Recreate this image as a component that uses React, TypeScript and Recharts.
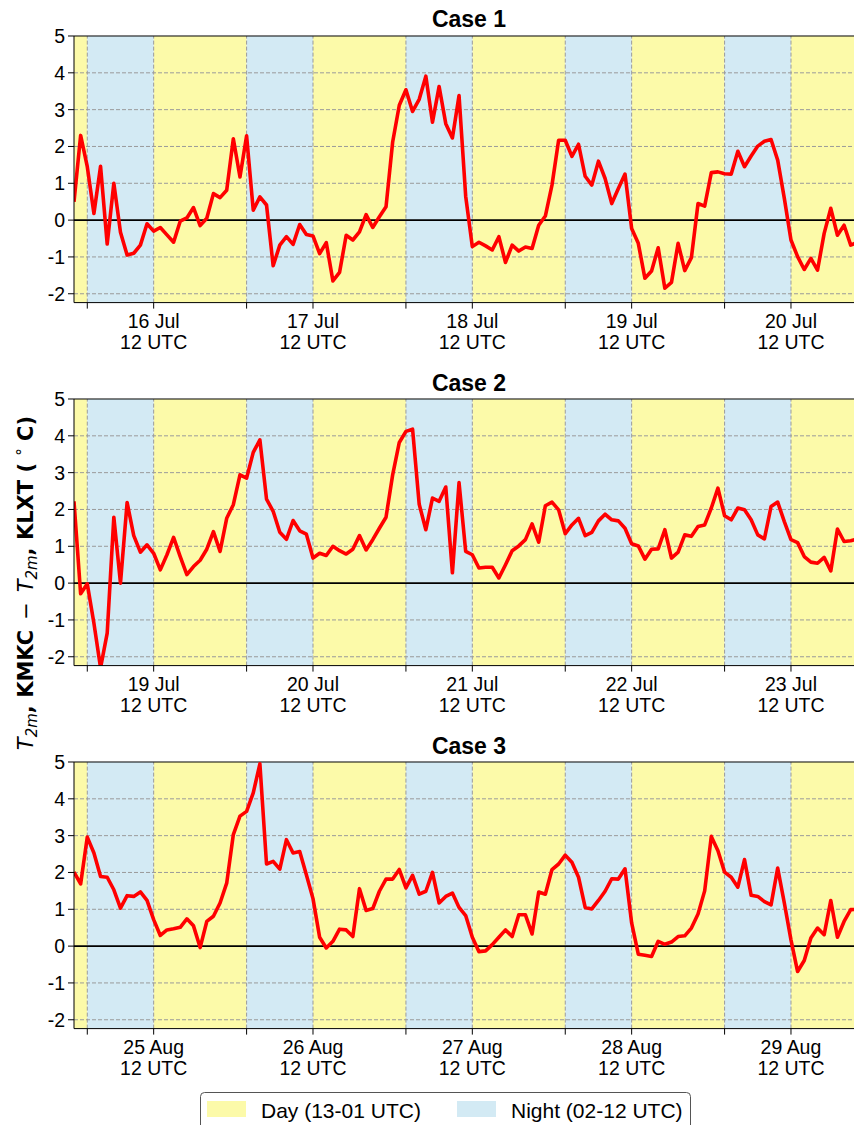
import React from 'react';
import { LineChart, Line, XAxis, YAxis, ReferenceArea, ReferenceLine } from 'recharts';

// ---- data (hourly, 00 UTC of first day = hour 0) ----
const CASE1_VALUES = [
  0.5, 2.3, 1.45, 0.18, 1.46, -0.65, 1.0, -0.33, -0.95, -0.9,
  -0.68, -0.1, -0.3, -0.2, -0.4, -0.6, -0.03, 0.06, 0.34, -0.15,
  0.05, 0.72, 0.61, 0.81, 2.21, 1.17, 2.29, 0.27, 0.63, 0.41,
  -1.24, -0.68, -0.45, -0.66, -0.12, -0.39, -0.43, -0.91, -0.61, -1.65,
  -1.42, -0.41, -0.54, -0.32, 0.15, -0.2, 0.09, 0.36, 2.12, 3.12,
  3.54, 2.95, 3.28, 3.91, 2.66, 3.63, 2.62, 2.23, 3.38, 0.65,
  -0.72, -0.6, -0.7, -0.81, -0.45, -1.15, -0.68, -0.84, -0.73, -0.77,
  -0.14, 0.11, 0.95, 2.17, 2.17, 1.73, 2.06, 1.19, 0.95, 1.6,
  1.13, 0.45, 0.86, 1.25, -0.23, -0.63, -1.58, -1.38, -0.75, -1.85,
  -1.69, -0.63, -1.37, -1.02, 0.45, 0.38, 1.29, 1.31, 1.26, 1.25,
  1.87, 1.45, 1.74, 2.01, 2.14, 2.19, 1.63, 0.59, -0.54, -0.99,
  -1.34, -1.04, -1.36, -0.36, 0.32, -0.41, -0.14, -0.68, -0.6, -0.5,
];

const CASE2_VALUES = [
  2.22, -0.29, -0.02, -1.09, -2.3, -1.36, 1.79, 0.0, 2.19, 1.29,
  0.84, 1.04, 0.81, 0.36, 0.77, 1.24, 0.72, 0.23, 0.45, 0.62,
  0.92, 1.4, 0.86, 1.76, 2.13, 2.94, 2.85, 3.55, 3.89, 2.28,
  1.95, 1.38, 1.19, 1.7, 1.42, 1.33, 0.68, 0.81, 0.75, 1.0,
  0.88, 0.79, 0.92, 1.29, 0.9, 1.18, 1.49, 1.79, 2.94, 3.82,
  4.12, 4.18, 2.14, 1.45, 2.31, 2.22, 2.61, 0.28, 2.73, 0.86,
  0.77, 0.41, 0.43, 0.43, 0.14, 0.5, 0.88, 1.01, 1.18, 1.61,
  1.11, 2.1, 2.2, 1.99, 1.34, 1.58, 1.76, 1.29, 1.38, 1.69,
  1.87, 1.72, 1.69, 1.49, 1.07, 1.01, 0.65, 0.92, 0.93, 1.45,
  0.68, 0.84, 1.31, 1.27, 1.54, 1.58, 2.04, 2.58, 1.83, 1.72,
  2.04, 1.99, 1.72, 1.31, 1.2, 2.08, 2.2, 1.67, 1.18, 1.1,
  0.72, 0.57, 0.54, 0.7, 0.33, 1.47, 1.13, 1.15, 1.2, 1.25,
];

const CASE3_VALUES = [
  2.01, 1.69, 2.96, 2.53, 1.89, 1.87, 1.53, 1.03, 1.37, 1.35,
  1.47, 1.24, 0.72, 0.29, 0.44, 0.47, 0.51, 0.74, 0.55, -0.04,
  0.67, 0.81, 1.17, 1.71, 3.03, 3.53, 3.66, 4.16, 4.95, 2.23,
  2.3, 2.09, 2.89, 2.53, 2.57, 1.94, 1.29, 0.24, -0.05, 0.13,
  0.46, 0.44, 0.26, 1.56, 0.97, 1.02, 1.49, 1.82, 1.82, 2.08,
  1.58, 1.92, 1.41, 1.49, 2.0, 1.17, 1.35, 1.44, 1.05, 0.83,
  0.24, -0.15, -0.13, 0.04, 0.24, 0.44, 0.26, 0.85, 0.85, 0.33,
  1.47, 1.41, 2.08, 2.23, 2.47, 2.28, 1.87, 1.05, 1.01, 1.24,
  1.49, 1.83, 1.82, 2.1, 0.63, -0.22, -0.25, -0.28, 0.13, 0.05,
  0.11, 0.26, 0.28, 0.49, 0.87, 1.5, 2.98, 2.59, 2.01, 1.87,
  1.6, 2.35, 1.38, 1.35, 1.21, 1.12, 2.12, 1.17, 0.17, -0.69,
  -0.39, 0.22, 0.49, 0.31, 1.24, 0.24, 0.67, 0.99, 1.0, 0.95,
];

const CASE_TITLES = ['Case 1', 'Case 2', 'Case 3'];
const CASE1_DAYS = ['16 Jul', '17 Jul', '18 Jul', '19 Jul', '20 Jul'];
const CASE2_DAYS = ['19 Jul', '20 Jul', '21 Jul', '22 Jul', '23 Jul'];
const CASE3_DAYS = ['25 Aug', '26 Aug', '27 Aug', '28 Aug', '29 Aug'];
const LABEL_HOURS = [12, 36, 60, 84, 108];
const TICK_HOURS = [2, 12, 26, 36, 50, 60, 74, 84, 98, 108];
const DAY_BANDS = [[0, 2], [12, 26], [36, 50], [60, 74], [84, 98], [108, 119]];
const NIGHT_BANDS = [[2, 12], [26, 36], [50, 60], [74, 84], [98, 108]];
const Y_TICKS = [-2, -1, 0, 1, 2, 3, 4, 5];
const Y_GRID = [-2, -1, 1, 2, 3, 4];
const X_DOMAIN = [0, 119];
const Y_DOMAIN = [-2.24, 5];

const DAY_COLOR = '#fcfaa9';
const NIGHT_COLOR = '#d3eaf4';
const GRID_COLOR = '#9a9a9a';
const FONT = '"Liberation Sans", Arial, Helvetica, sans-serif';
const LABEL_FONT = '"DejaVu Sans", sans-serif';

const PANEL_TOPS = [-0.3, 363.3, 726.3];
const CHART_W = 900;
const CHART_H = 363.6;

function makeTick(days: string[]) {
  return (props: any) => {
    const { x, y, payload } = props;
    const idx = LABEL_HOURS.indexOf(payload.value);
    if (idx < 0) return <g />;
    return (
      <text x={x} y={y} textAnchor="middle" fontSize={19.5} fill="#000" fontFamily={FONT}>
        <tspan x={x} dy={17}>{days[idx]}</tspan>
        <tspan x={x} dy={21}>12 UTC</tspan>
      </text>
    );
  };
}

function Panel({ values, days }: { values: number[]; days: string[] }) {
  const data = values.map((v, i) => ({ h: i, v }));
  return (
    <LineChart
      width={CHART_W}
      height={CHART_H}
      data={data}
      margin={{ top: 36, right: 36, left: 0, bottom: 0 }}
    >
      <XAxis
        dataKey="h"
        type="number"
        domain={X_DOMAIN}
        ticks={TICK_HOURS}
        interval={0}
        allowDataOverflow
        height={61}
        tickSize={6}
        tickLine={{ stroke: '#000' }}
        axisLine={{ stroke: '#000' }}
        tick={makeTick(days)}
      />
      <YAxis
        type="number"
        domain={Y_DOMAIN}
        ticks={Y_TICKS}
        interval={0}
        allowDataOverflow
        width={74}
        tickSize={6}
        tickMargin={3}
        tickLine={{ stroke: '#000' }}
        axisLine={{ stroke: '#000' }}
        tick={{ fontSize: 19.5, fill: '#000', fontFamily: FONT }}
      />
      {DAY_BANDS.map(([a, b], i) => (
        <ReferenceArea key={'d' + i} x1={a} x2={b} y1={Y_DOMAIN[0]} y2={Y_DOMAIN[1]} fill={DAY_COLOR} fillOpacity={1} stroke="none" />
      ))}
      {NIGHT_BANDS.map(([a, b], i) => (
        <ReferenceArea key={'n' + i} x1={a} x2={b} y1={Y_DOMAIN[0]} y2={Y_DOMAIN[1]} fill={NIGHT_COLOR} fillOpacity={1} stroke="none" />
      ))}
      {Y_GRID.map((g) => (
        <ReferenceLine key={'gy' + g} y={g} stroke={GRID_COLOR} strokeWidth={1} strokeDasharray="4 2" />
      ))}
      {TICK_HOURS.map((g) => (
        <ReferenceLine key={'gx' + g} x={g} stroke={GRID_COLOR} strokeWidth={1} strokeDasharray="4 2" />
      ))}
      <ReferenceLine y={0} stroke="#000" strokeWidth={1.8} />
      <ReferenceLine y={5} stroke="#000" strokeWidth={1} />
      <Line
        type="linear"
        dataKey="v"
        stroke="#ff0000"
        strokeWidth={3.6}
        strokeLinejoin="round"
        dot={false}
        activeDot={false}
        isAnimationActive={false}
      />
    </LineChart>
  );
}

const PANELS = [
  { values: CASE1_VALUES, days: CASE1_DAYS },
  { values: CASE2_VALUES, days: CASE2_DAYS },
  { values: CASE3_VALUES, days: CASE3_DAYS },
];

function YLabel() {
  return (
    <text
      transform="translate(33,583) rotate(-90)"
      textAnchor="middle"
      fontSize={21}
      fontWeight="bold"
      fill="#000"
      fontFamily={LABEL_FONT}
    >
      <tspan fontStyle="italic" fontWeight="normal">T</tspan>
      <tspan fontStyle="italic" fontWeight="normal" fontSize={15} dy={4}>2m</tspan>
      <tspan dy={-4}>, KMKC </tspan>
      <tspan fontWeight="normal" dx={3}>− </tspan>
      <tspan fontStyle="italic" fontWeight="normal" dx={3}>T</tspan>
      <tspan fontStyle="italic" fontWeight="normal" fontSize={15} dy={4}>2m</tspan>
      <tspan dy={-4}>, KLXT ( </tspan>
      <tspan fontWeight="normal" fontSize={15} dy={-5}>°</tspan>
      <tspan dy={5}> C)</tspan>
    </text>
  );
}

export default function App() {
  return (
    <div
      style={{
        position: 'fixed',
        left: 0,
        top: 0,
        width: 854,
        height: 1125,
        overflow: 'hidden',
        background: '#fff',
        fontFamily: FONT,
      }}
    >
      {PANELS.map((p, i) => (
        <div key={i} style={{ position: 'absolute', left: 0, top: PANEL_TOPS[i] }}>
          <Panel values={p.values} days={p.days} />
        </div>
      ))}
      <svg
        width={854}
        height={1125}
        style={{ position: 'absolute', left: 0, top: 0, pointerEvents: 'none' }}
      >
        {CASE_TITLES.map((t, i) => (
          <text key={t} x={469} y={27 + PANEL_TOPS[i] + 0.3} textAnchor="middle" fontSize={23} fontWeight="bold" fill="#000" fontFamily={FONT}>
            {t}
          </text>
        ))}
        <YLabel />
        <rect x={200.5} y={1092.5} width={490} height={50} rx={4} fill="#fff" stroke="#555" strokeWidth={1} />
        <rect x={207} y={1101} width={39} height={16} fill={DAY_COLOR} />
        <text x={261} y={1118} fontSize={21} fill="#000" fontFamily={FONT}>Day (13-01 UTC)</text>
        <rect x={457} y={1101} width={39} height={16} fill={NIGHT_COLOR} />
        <text x={511} y={1118} fontSize={21} fill="#000" fontFamily={FONT}>Night (02-12 UTC)</text>
      </svg>
    </div>
  );
}
